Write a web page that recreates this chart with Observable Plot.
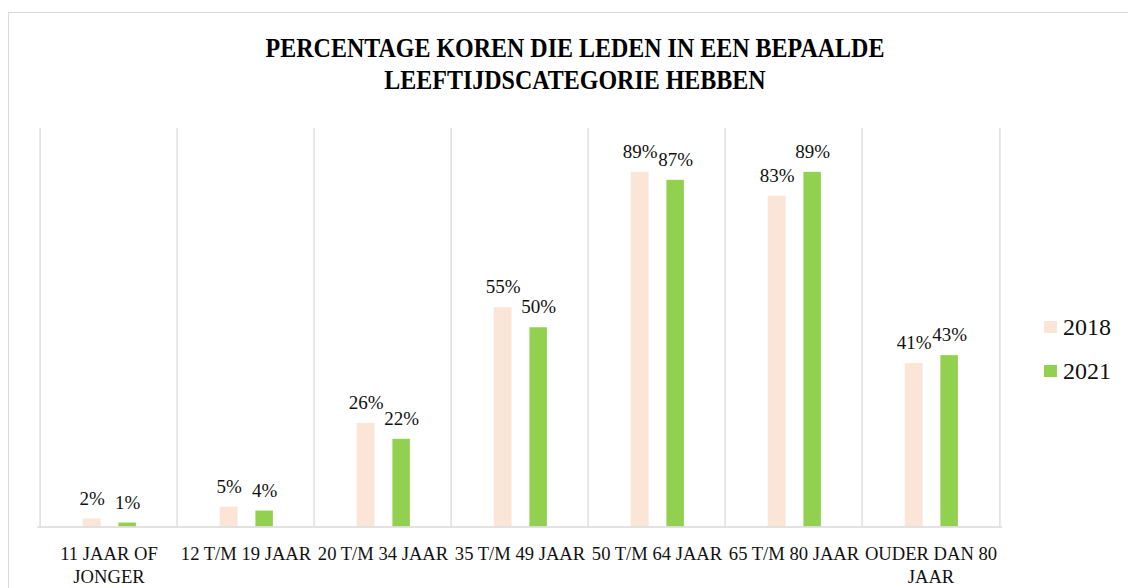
<!DOCTYPE html>
<html>
<head>
<meta charset="utf-8">
<script src="https://cdn.jsdelivr.net/npm/d3@7"></script>
<script src="https://cdn.jsdelivr.net/npm/@observablehq/plot@0.6"></script>
<style>
  html, body { margin: 0; padding: 0; background: #fff; overflow: hidden; }
  #wrap { position: relative; width: 1128px; height: 588px; overflow: hidden; font-family: "Liberation Serif", serif; }
  #border { position: absolute; left: 8px; top: 12px; width: 1300px; height: 800px; border: 1px solid #d9d9d9; box-sizing: border-box; }
  #title { position: absolute; left: 0; top: 31.5px; width: 1150px; text-align: center; font-weight: bold; font-size: 26.5px; line-height: 32.7px; color: #000; transform: scaleX(0.905); transform-origin: 575px 0; }
  #chart { position: absolute; left: 0; top: 0; }
  .lg { position: absolute; left: 1044px; display: flex; align-items: center; height: 24px; font-size: 24px; line-height: 24px; color: #111; }
  .lg .sw { width: 12.7px; height: 12.7px; margin-right: 6.3px; }
</style>
</head>
<body>
<div id="wrap">
  <div id="border"></div>
  <div id="title">PERCENTAGE KOREN DIE LEDEN IN EEN BEPAALDE<br>LEEFTIJDSCATEGORIE HEBBEN</div>
  <div id="chart"></div>
  <div id="legend"></div>
</div>
<script>
const categories = ["11 JAAR OF JONGER", "12 T/M 19 JAAR", "20 T/M 34 JAAR", "35 T/M 49 JAAR", "50 T/M 64 JAAR", "65 T/M 80 JAAR", "OUDER DAN 80 JAAR"];
const tickLabels = ["11 JAAR OF\nJONGER", "12 T/M 19 JAAR", "20 T/M 34 JAAR", "35 T/M 49 JAAR", "50 T/M 64 JAAR", "65 T/M 80 JAAR", "OUDER DAN 80\nJAAR"];
const years = ["2018", "2021"];
const values2018 = [2, 5, 26, 55, 89, 83, 41];
const values2021 = [1, 4, 22, 50, 87, 89, 43];
const colors = ["#fbe5d6", "#92d050"];

const W = 1128, H = 588;
const mL = 37.3, mR = 126, mT = 128, mB = 61.5;
const step = (W - mL - mR) / categories.length;

const d2018 = categories.map((c, i) => ({category: c, value: values2018[i]}));
const d2021 = categories.map((c, i) => ({category: c, value: values2021[i]}));
const labelOf = new Map(categories.map((c, i) => [c, tickLabels[i]]));

const font = "Liberation Serif";
const chart = Plot.plot({
  width: W,
  height: H,
  marginLeft: mL,
  marginRight: mR,
  marginTop: mT,
  marginBottom: mB,
  style: {fontFamily: font, fontSize: "18px", color: "#111", background: "transparent", overflow: "visible"},
  x: {domain: categories, padding: 0, axis: null, label: null},
  y: {domain: [0, 100], axis: null, label: null},
  marks: [
    Plot.ruleX(categories, {x: d => d, y1: 0, y2: 100, dx: -step / 2, stroke: "#d9d9d9", strokeWidth: 1.3}),
    Plot.ruleX(categories.slice(-1), {x: d => d, y1: 0, y2: 100, dx: step / 2, stroke: "#d9d9d9", strokeWidth: 1.3}),
    Plot.barY(d2018, {x: "category", y: "value", fill: colors[0], insetLeft: 42.7, insetRight: step - 61.4}),
    Plot.barY(d2021, {x: "category", y: "value", fill: colors[1], insetLeft: 78.4, insetRight: step - 96.7}),
    Plot.ruleY([0], {stroke: "#d9d9d9", strokeWidth: 1.6}),
    Plot.text(d2018, {x: "category", y: "value", text: d => d.value + "%", dx: 52 - step / 2, dy: -14.5, lineAnchor: "bottom", fontSize: 19, fill: "#111"}),
    Plot.text(d2021, {x: "category", y: "value", text: d => d.value + "%", dx: 87.5 - step / 2, dy: -14.5, lineAnchor: "bottom", fontSize: 19, fill: "#111"}),
    Plot.axisX({tickSize: 0, tickPadding: 17.4, fontSize: 18.6, lineHeight: 1.2, label: null, tickFormat: d => labelOf.get(d), fill: "#111"})
  ]
});
document.getElementById("chart").appendChild(chart);

const legend = document.getElementById("legend");
const legendTops = [315, 359];
years.forEach((y, i) => {
  const row = document.createElement("div");
  row.className = "lg";
  row.style.top = legendTops[i] + "px";
  const sw = document.createElement("span");
  sw.className = "sw";
  sw.style.background = colors[i];
  const tx = document.createElement("span");
  tx.textContent = y;
  row.appendChild(sw);
  row.appendChild(tx);
  legend.appendChild(row);
});
</script>
</body>
</html>
